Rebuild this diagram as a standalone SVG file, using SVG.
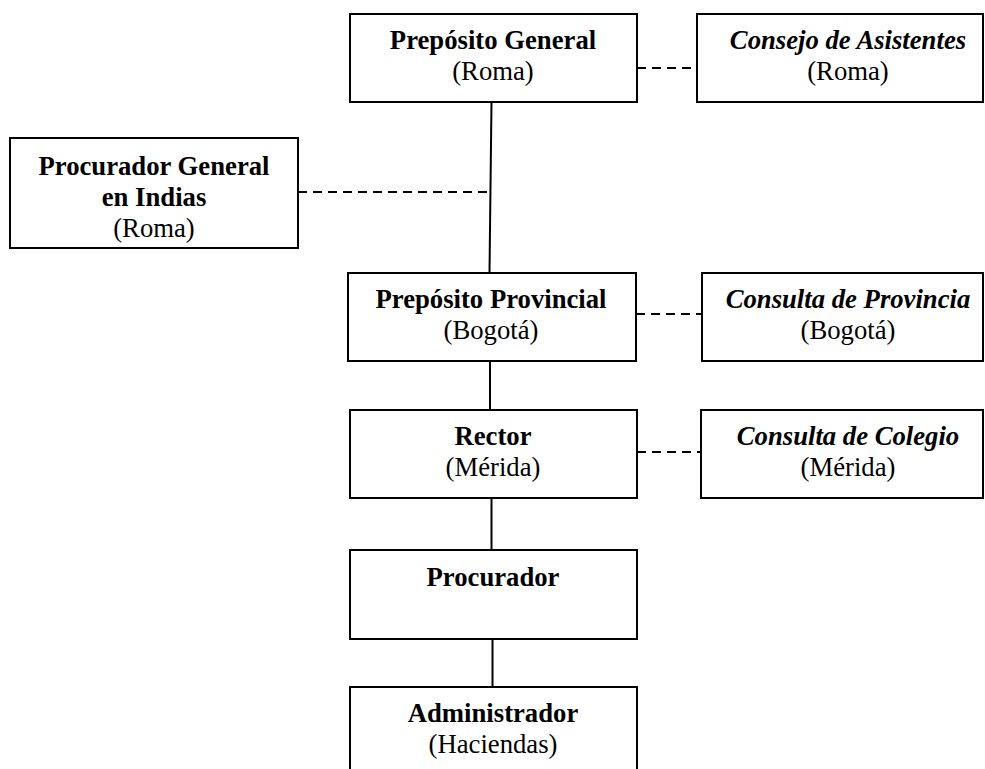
<svg xmlns="http://www.w3.org/2000/svg" width="985" height="769" viewBox="0 0 985 769">
<style>
.box{fill:#fff;stroke:#000;stroke-width:2}
.t{font-family:"Liberation Serif","Times New Roman",serif;font-size:26.7px;fill:#000;text-anchor:middle}
.b{font-weight:bold}
.bi{font-weight:bold;font-style:italic}
.solid{stroke:#000;stroke-width:2;fill:none}
.dash{stroke:#000;stroke-width:2;fill:none;stroke-dasharray:9 6}
</style>
<rect width="985" height="769" fill="#fff"/>
<g id="connectors">
<line class="solid" x1="491.5" y1="102" x2="489.5" y2="273"/>
<line class="solid" x1="490" y1="361" x2="490" y2="410"/>
<line class="solid" x1="491.5" y1="498" x2="491.5" y2="550"/>
<line class="solid" x1="492.5" y1="639" x2="492.5" y2="687"/>
<line class="dash" x1="637" y1="68" x2="697" y2="68"/>
<line class="dash" x1="298" y1="192" x2="490.5" y2="192"/>
<line class="dash" x1="636" y1="314" x2="702" y2="314"/>
<line class="dash" x1="637" y1="452" x2="701" y2="452"/>
</g>
<g id="prepositoGeneral">
<rect class="box" x="350" y="14" width="287" height="88"/>
<text class="t b" x="493" y="49">Prepósito General</text>
<text class="t" x="493" y="80">(Roma)</text>
</g>
<g id="consejoAsistentes">
<rect class="box" x="697" y="14" width="286" height="88"/>
<text class="t bi" x="848" y="49">Consejo de Asistentes</text>
<text class="t" x="848" y="80">(Roma)</text>
</g>
<g id="procuradorGeneral">
<rect class="box" x="10" y="138" width="288" height="110"/>
<text class="t b" x="154" y="175">Procurador General</text>
<text class="t b" x="154" y="206">en Indias</text>
<text class="t" x="154" y="237">(Roma)</text>
</g>
<g id="prepositoProvincial">
<rect class="box" x="348" y="273" width="288" height="88"/>
<text class="t b" x="491" y="308">Prepósito Provincial</text>
<text class="t" x="491" y="339">(Bogotá)</text>
</g>
<g id="consultaProvincia">
<rect class="box" x="702" y="273" width="281" height="88"/>
<text class="t bi" x="848" y="308">Consulta de Provincia</text>
<text class="t" x="848" y="339">(Bogotá)</text>
</g>
<g id="rector">
<rect class="box" x="350" y="410" width="287" height="88"/>
<text class="t b" x="493" y="445">Rector</text>
<text class="t" x="493" y="476">(Mérida)</text>
</g>
<g id="consultaColegio">
<rect class="box" x="701" y="410" width="282" height="88"/>
<text class="t bi" x="848" y="445">Consulta de Colegio</text>
<text class="t" x="848" y="476">(Mérida)</text>
</g>
<g id="procurador">
<rect class="box" x="350" y="550" width="287" height="89"/>
<text class="t b" x="493" y="586">Procurador</text>
</g>
<g id="administrador">
<rect class="box" x="350" y="687" width="287" height="100"/>
<text class="t b" x="493" y="722">Administrador</text>
<text class="t" x="493" y="753">(Haciendas)</text>
</g>
</svg>
